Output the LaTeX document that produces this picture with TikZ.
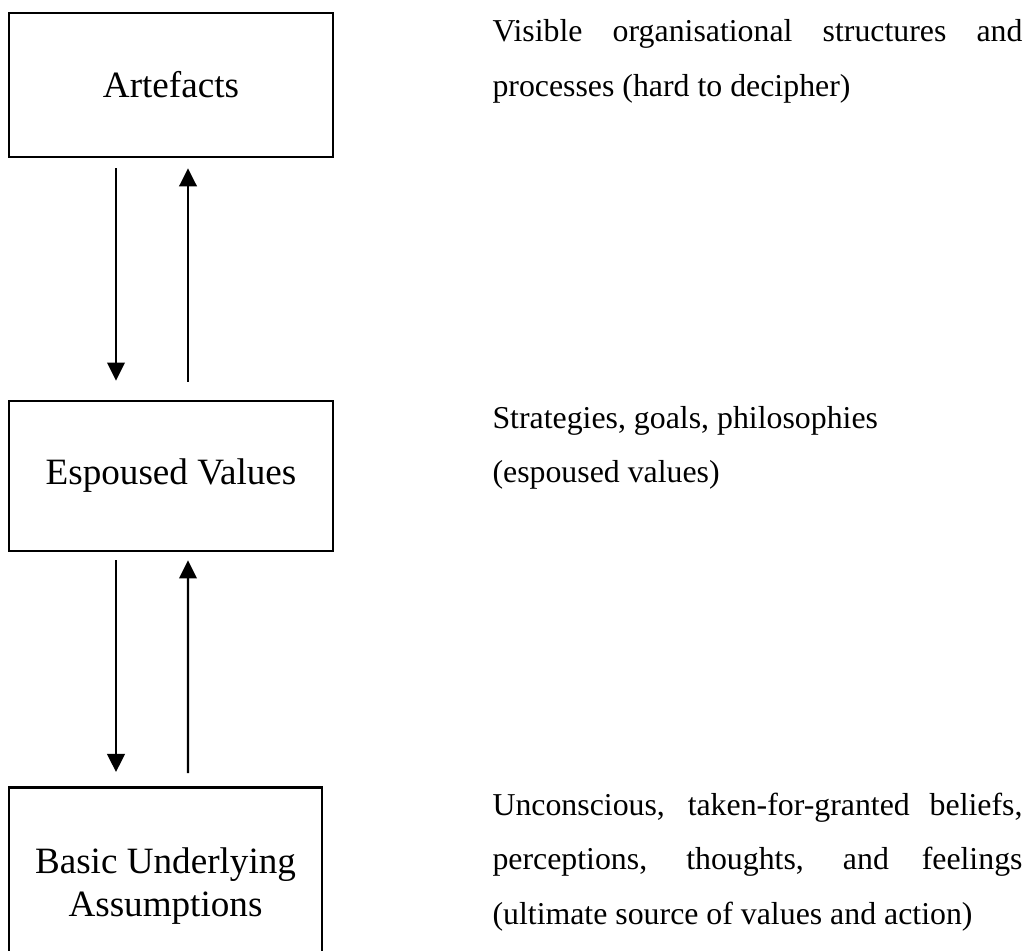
\documentclass[tikz,border=0pt]{standalone}
\usepackage{fontspec}
\setmainfont{Liberation Serif}
\usetikzlibrary{arrows.meta}
\hyphenpenalty=10000

\begin{document}
\begin{tikzpicture}[
    x=0.377pt, y=-0.377pt,
    level/.style={draw, line width=1pt, minimum width=122.1pt, align=center,
                  font=\fontsize{14pt}{16.1pt}\selectfont},
    note/.style={anchor=base west, inner sep=0pt, text width=199.8pt, align=justify,
                 font=\fontsize{12pt}{20.7pt}\selectfont},
    arrow/.style={-{Triangle[width=6.6pt, length=6.8pt]}, line width=0.9pt},
]
\useasboundingbox (0,0) rectangle (1029,950);

\node[level, minimum height=54.3pt] (art) at (171,85) {Artefacts};
\node[level, minimum height=56.6pt] (esp) at (171,476) {Espoused Values};
\node[level, minimum width=118pt, minimum height=74.6pt, anchor=north] (bua) at (165.5,786)
     {Basic Underlying\\Assumptions};

\node[note] (vis) at (492,42) {Visible organisational structures and\linebreak
     processes (hard to decipher)};
\node[note] (str) at (492,428) {Strategies, goals, philosophies\\(espoused values)};
\node[note] (unc) at (492,815) {Unconscious, taken-for-granted beliefs,\linebreak
     perceptions, thoughts, and feelings\linebreak (ultimate source of values and action)};

\draw[arrow] ([shift={(-55,10)}]art.south) -- ([shift={(-55,-19)}]esp.north);
\draw[arrow] ([shift={(17,-18)}]esp.north) -- ([shift={(17,10)}]art.south);
\draw[arrow] ([shift={(-55,8)}]esp.south) -- ([shift={(-49.5,-14)}]bua.north);
\draw[arrow] ([shift={(22.5,-13)}]bua.north) -- ([shift={(17,8)}]esp.south);
\end{tikzpicture}
\end{document}
